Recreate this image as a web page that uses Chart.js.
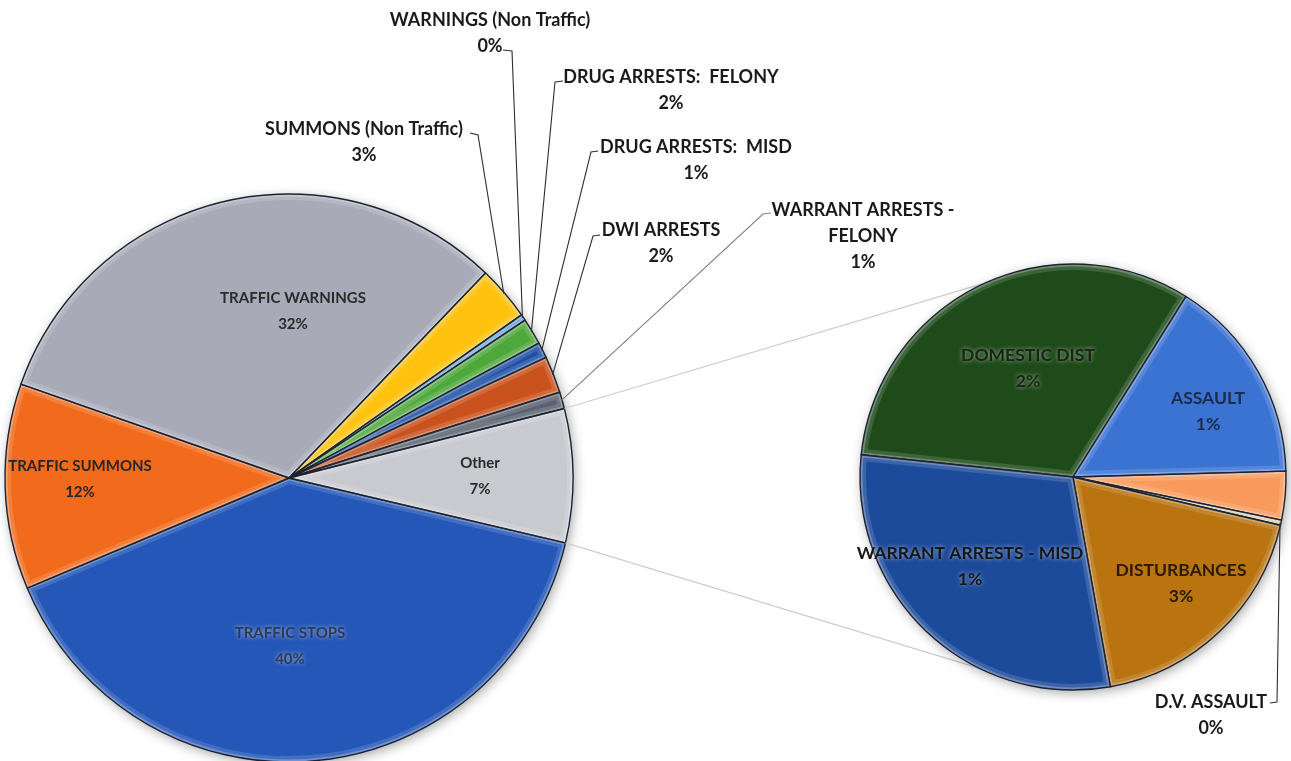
<!DOCTYPE html>
<html>
<head>
<meta charset="utf-8">
<script src="https://cdn.jsdelivr.net/npm/chart.js@4.4.1/dist/chart.umd.min.js"></script>
<style>
  html, body { margin: 0; padding: 0; background: #fff; }
  #wrap { position: relative; width: 1291px; height: 761px; overflow: hidden; background: #fff; }
  #wrap canvas { position: absolute; left: 0; top: 0; }
</style>
</head>
<body>
<div id="wrap">
  <canvas id="mainPie" width="1291" height="800"></canvas>
  <canvas id="subPie" width="1291" height="800"></canvas>
</div>
<script>
// Main pie, clockwise from TRAFFIC STOPS. The last slice ("Other") is split out in the second pie.
const mainLabels = ['TRAFFIC STOPS', 'TRAFFIC SUMMONS', 'TRAFFIC WARNINGS', 'SUMMONS (Non Traffic)',
    'WARNINGS (Non Traffic)', 'DRUG ARRESTS:  FELONY', 'DRUG ARRESTS:  MISD', 'DWI ARRESTS',
    'WARRANT ARRESTS - FELONY', 'Other'];
const mainValues = [40.0, 11.7, 31.8, 3.1, 0.35, 1.5, 0.9, 2.1, 0.95];
const mainPercents = ['40%', '12%', '32%', '3%', '0%', '2%', '1%', '2%', '1%', '7%'];

// Second pie ("Other"), clockwise from DOMESTIC DIST
const subLabels = ['DOMESTIC DIST', 'ASSAULT', '', 'D.V. ASSAULT', 'DISTURBANCES', 'WARRANT ARRESTS - MISD'];
const subValues = [2.45, 1.19, 0.28, 0.03, 1.41, 2.24];
const subPercents = ['2%', '1%', '', '0%', '3%', '1%'];

const otherValue = subValues.reduce((a, b) => a + b, 0);
const mainData = mainValues.concat([otherValue]);

const mainColors = ['#2457b8', '#f26b1d', '#a8aab8', '#ffc20e', '#5b9bd5', '#4ea83c',
    '#1f4fa6', '#c9511b', '#5b6170', '#c9cad0'];
const subColors = ['#1f4b1b', '#3b73d3', '#f89a5c', '#d8c8a0', '#b9730f', '#1d4b9b'];

const FONT = 'Lato, "Open Sans", sans-serif';

// where each label goes (text centre of first line); lead = tick drawn from the text towards the slice
const mainLayout = [
    { x: 290, y: 633, size: 15, color: '#2e3a55', glow: true },
    { x: 80, y: 466, size: 15, color: '#262626' },
    { x: 293, y: 298, size: 15, color: '#2a2a2a' },
    { x: 364, y: 129, size: 18, color: '#1a1a1a', lead: [[470, 133], [478, 135]] },
    { x: 490, y: 20, size: 18, color: '#1a1a1a', lead: [[503, 50], [512, 51]] },
    { x: 671, y: 77, size: 18, color: '#1a1a1a', lead: [[563, 81], [555, 82]] },
    { x: 696, y: 147, size: 18, color: '#1a1a1a', lead: [[598, 151], [591, 152]] },
    { x: 661, y: 230, size: 18, color: '#1a1a1a', lead: [[600, 235], [593, 236]] },
    { x: 863, y: 210, size: 18, color: '#1a1a1a', split: true, leadColor: '#808080', lead: [[771, 213], [763, 214]] },
    { x: 480, y: 463, size: 15, color: '#2a2a2a' }
];
const subLayout = [
    { x: 1028, y: 355, size: 17.5, color: '#1a2414', glow: true },
    { x: 1208, y: 398, size: 17.5, color: '#1e2b4a' },
    null,
    { x: 1211, y: 702, size: 18, color: '#1a1a1a', lead: [[1270, 703], [1277, 702]] },
    { x: 1181, y: 570, size: 17.5, color: '#2a1a06' },
    { x: 970, y: 553, size: 17.5, color: '#14161c', glow: true }
];

function pointAt(arc, angle, r) {
    return [arc.x + Math.cos(angle) * r, arc.y + Math.sin(angle) * r];
}

function slicePath(ctx, arc) {
    ctx.beginPath();
    ctx.moveTo(arc.x, arc.y);
    ctx.arc(arc.x, arc.y, arc.outerRadius, arc.startAngle, arc.endAngle);
    ctx.closePath();
}

// soft shadow under the whole disc
const shadowPlugin = {
    id: 'pieShadow',
    beforeDatasetsDraw(chart) {
        const arc = chart.getDatasetMeta(0).data[0];
        const ctx = chart.ctx;
        ctx.save();
        ctx.shadowColor = 'rgba(0,0,0,0.35)';
        ctx.shadowBlur = 12;
        ctx.shadowOffsetX = 2;
        ctx.shadowOffsetY = 3;
        ctx.fillStyle = '#fff';
        ctx.beginPath();
        ctx.arc(arc.x, arc.y, arc.outerRadius, 0, Math.PI * 2);
        ctx.fill();
        ctx.restore();
    }
};

// light inner band + dark outline on each slice, like the bevelled Excel look
const bevelPlugin = {
    id: 'pieBevel',
    afterDatasetsDraw(chart) {
        const ctx = chart.ctx;
        chart.getDatasetMeta(0).data.forEach(arc => {
            if (arc.endAngle - arc.startAngle <= 0) return;
            ctx.save();
            slicePath(ctx, arc);
            ctx.clip();
            ctx.strokeStyle = 'rgba(255,255,255,0.14)';
            ctx.lineWidth = 12;
            ctx.stroke();
            ctx.strokeStyle = 'rgba(255,255,255,0.26)';
            ctx.lineWidth = 5;
            ctx.stroke();
            ctx.restore();
            ctx.save();
            slicePath(ctx, arc);
            ctx.strokeStyle = '#1c2433';
            ctx.lineWidth = 1.4;
            ctx.lineJoin = 'round';
            ctx.stroke();
            ctx.restore();
        });
    }
};

function makeLabelPlugin(layout, percents) {
    return {
        id: 'pieLabels',
        afterDatasetsDraw(chart) {
            const ctx = chart.ctx;
            const meta = chart.getDatasetMeta(0);
            const names = chart.data.labels;
            layout.forEach((lay, i) => {
                if (!lay) return;
                const arc = meta.data[i];
                let lines = [names[i]];
                if (lay.split) {
                    const k = names[i].indexOf(' - ');
                    lines = [names[i].slice(0, k + 2), names[i].slice(k + 3)];
                }
                lines.push(percents[i]);

                if (lay.lead) {
                    const mid = (arc.startAngle + arc.endAngle) / 2;
                    const end = pointAt(arc, mid, arc.outerRadius - 1);
                    ctx.save();
                    ctx.strokeStyle = lay.leadColor || '#2e2e2e';
                    ctx.lineWidth = 1.1;
                    ctx.beginPath();
                    ctx.moveTo(lay.lead[0][0], lay.lead[0][1]);
                    ctx.lineTo(lay.lead[1][0], lay.lead[1][1]);
                    ctx.lineTo(end[0], end[1]);
                    ctx.stroke();
                    ctx.restore();
                }

                ctx.save();
                ctx.font = 'bold ' + lay.size + 'px ' + FONT;
                ctx.fillStyle = lay.color;
                ctx.textAlign = 'center';
                ctx.textBaseline = 'middle';
                if (lay.glow) {
                    ctx.shadowColor = 'rgba(255,255,255,0.55)';
                    ctx.shadowBlur = 4;
                }
                lines.forEach((t, j) => ctx.fillText(t, lay.x, lay.y + j * 26));
                ctx.restore();
            });
        }
    };
}

// grey lines from the edges of "Other" to the second pie
const connectorPlugin = {
    id: 'pieConnect',
    beforeDatasetsDraw(chart) {
        const mainMeta = mainChart.getDatasetMeta(0);
        const other = mainMeta.data[mainMeta.data.length - 1];
        const sub = chart.getDatasetMeta(0).data[0];
        const deg = d => (d - 90) * Math.PI / 180;
        const a1 = pointAt(other, other.startAngle, other.outerRadius);
        const a2 = pointAt(other, other.endAngle, other.outerRadius);
        const b1 = pointAt(sub, deg(335.7), sub.outerRadius);
        const b2 = pointAt(sub, deg(206.2), sub.outerRadius);
        const ctx = chart.ctx;
        ctx.save();
        ctx.strokeStyle = '#cdcdcd';
        ctx.lineWidth = 1.2;
        ctx.beginPath();
        ctx.moveTo(a1[0], a1[1]);
        ctx.lineTo(b1[0], b1[1]);
        ctx.moveTo(a2[0], a2[1]);
        ctx.lineTo(b2[0], b2[1]);
        ctx.stroke();
        ctx.restore();
    }
};

const baseOptions = {
    responsive: false,
    animation: false,
    events: [],
    plugins: {
        legend: { display: false },
        tooltip: { enabled: false }
    }
};

const mainChart = new Chart(document.getElementById('mainPie'), {
    type: 'pie',
    data: {
        labels: mainLabels,
        datasets: [{ data: mainData, backgroundColor: mainColors, borderWidth: 0 }]
    },
    options: Object.assign({}, baseOptions, {
        rotation: 103.2,
        radius: 284,
        layout: { padding: { left: 0, right: 713, top: 190, bottom: 34 } }
    }),
    plugins: [shadowPlugin, bevelPlugin, makeLabelPlugin(mainLayout, mainPercents)]
});

const subChart = new Chart(document.getElementById('subPie'), {
    type: 'pie',
    data: {
        labels: subLabels,
        datasets: [{ data: subValues, backgroundColor: subColors, borderWidth: 0 }]
    },
    options: Object.assign({}, baseOptions, {
        rotation: 276,
        radius: 213,
        layout: { padding: { left: 858, right: 3, top: 262, bottom: 108 } }
    }),
    plugins: [connectorPlugin, shadowPlugin, bevelPlugin, makeLabelPlugin(subLayout, subPercents)]
});
</script>
</body>
</html>
